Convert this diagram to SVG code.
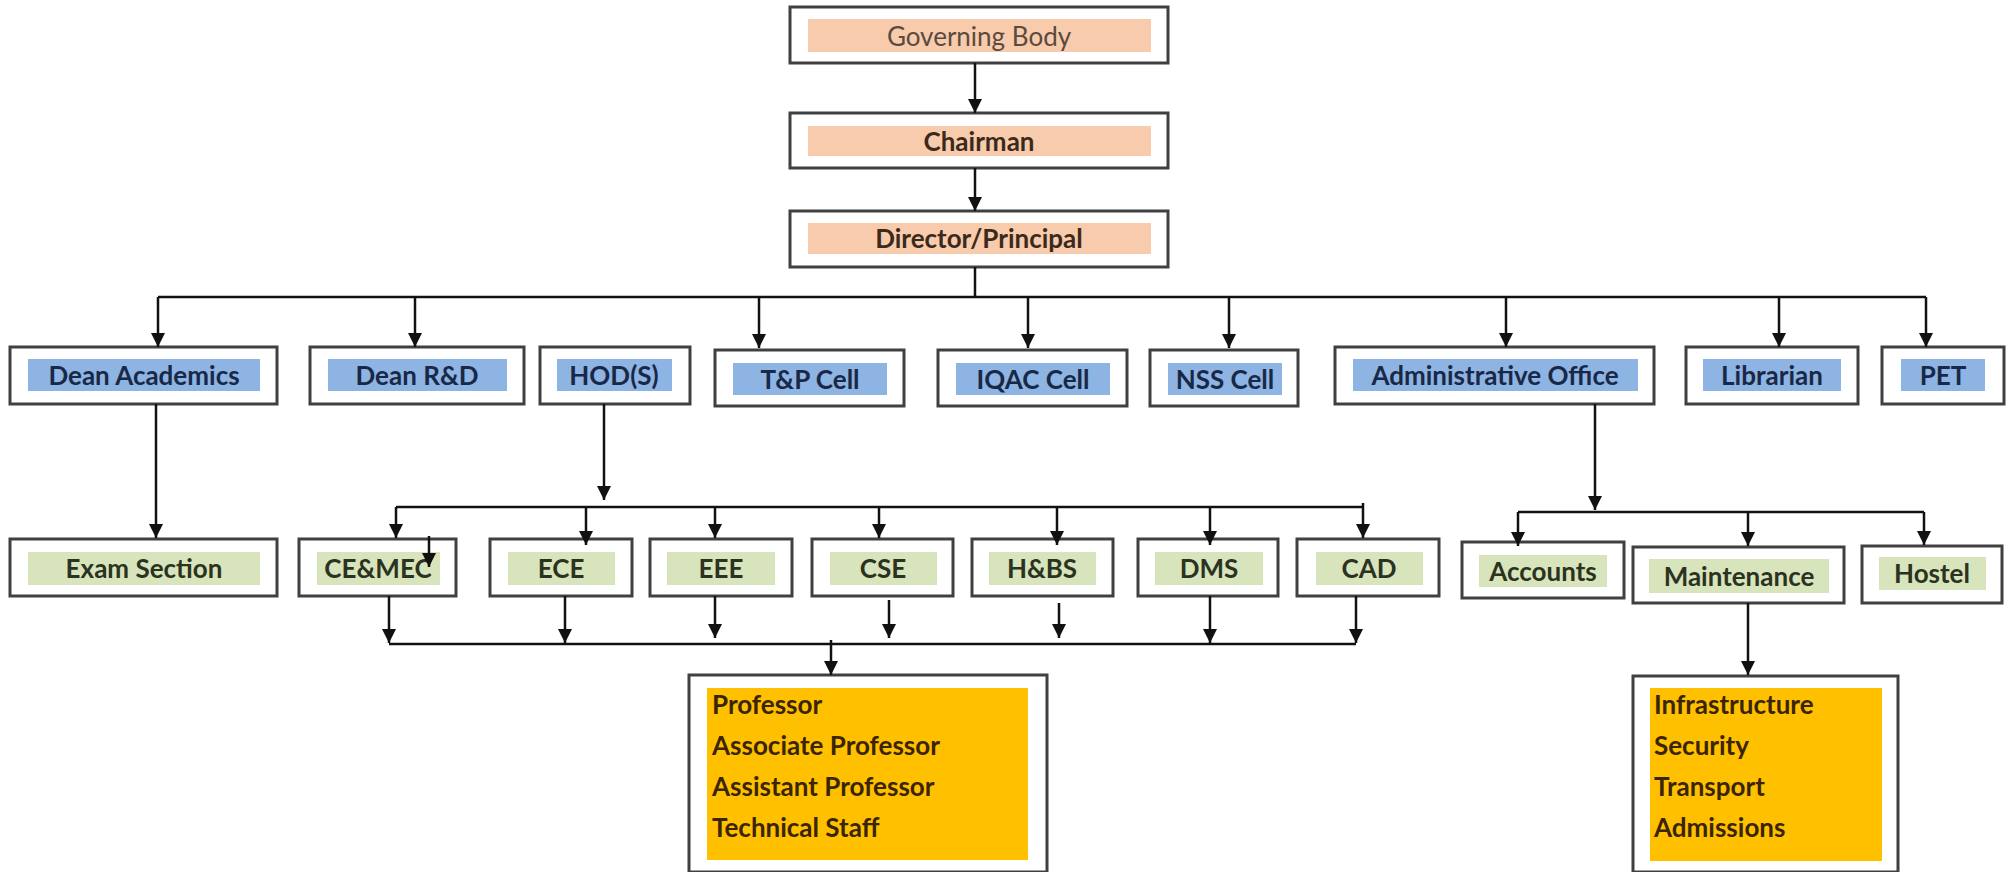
<svg xmlns="http://www.w3.org/2000/svg" width="2007" height="872" viewBox="0 0 2007 872">
<style>
.box{fill:#ffffff;stroke:#404040;stroke-width:3}
.pe{fill:#f8cbad}
.bl{fill:#8db4e2}
.gr{fill:#d7e4bc}
.or{fill:#ffc000}
text{font-family:Lato,"Liberation Sans",sans-serif;font-size:26px;font-weight:700}
.c{text-anchor:middle}
.tp{fill:#3b2a1c}
.tg{fill:#5b4a3e;font-weight:400}
.tb{fill:#1a2848}
.tgr{fill:#2b3320}
.to{fill:#3a2500}
.ln{fill:none;stroke:#111;stroke-width:2.5}
</style>
<defs>
<marker id="ah" markerWidth="14" markerHeight="14" refX="14" refY="7" orient="auto" markerUnits="userSpaceOnUse"><path d="M0,0 L14,7 L0,14 z" fill="#111"/></marker>
</defs>
<rect width="2007" height="872" fill="#ffffff"/>
<g id="governing-body"><rect class="box" x="790" y="7" width="378" height="56"/><rect class="pe" x="808" y="19" width="343" height="33"/><text class="c tg" x="979" y="46">Governing Body</text></g>
<g id="chairman"><rect class="box" x="790" y="113" width="378" height="55"/><rect class="pe" x="808" y="126" width="343" height="30"/><text class="c tp" x="979" y="151">Chairman</text></g>
<g id="director"><rect class="box" x="790" y="211" width="378" height="56"/><rect class="pe" x="808" y="223" width="343" height="31"/><text class="c tp" x="979" y="248">Director/Principal</text></g>

<g id="dean-academics"><rect class="box" x="10" y="347" width="267" height="57"/><rect class="bl" x="28" y="359" width="232" height="32"/><text class="c tb" x="144" y="385">Dean Academics</text></g>
<g id="dean-rd"><rect class="box" x="310" y="347" width="214" height="57"/><rect class="bl" x="328" y="359" width="179" height="32"/><text class="c tb" x="417" y="385">Dean R&amp;D</text></g>
<g id="hods"><rect class="box" x="540" y="347" width="150" height="57"/><rect class="bl" x="557" y="359" width="115" height="32"/><text class="c tb" x="614" y="385">HOD(S)</text></g>
<g id="tp-cell"><rect class="box" x="715" y="350" width="189" height="56"/><rect class="bl" x="733" y="363" width="154" height="32"/><text class="c tb" x="810" y="389">T&amp;P Cell</text></g>
<g id="iqac-cell"><rect class="box" x="938" y="350" width="189" height="56"/><rect class="bl" x="956" y="363" width="154" height="32"/><text class="c tb" x="1033" y="389">IQAC Cell</text></g>
<g id="nss-cell"><rect class="box" x="1150" y="350" width="148" height="56"/><rect class="bl" x="1168" y="363" width="114" height="32"/><text class="c tb" x="1225" y="389">NSS Cell</text></g>
<g id="admin-office"><rect class="box" x="1335" y="347" width="319" height="57"/><rect class="bl" x="1353" y="359" width="285" height="32"/><text class="c tb" x="1495" y="385">Administrative Office</text></g>
<g id="librarian"><rect class="box" x="1686" y="347" width="172" height="57"/><rect class="bl" x="1703" y="359" width="138" height="32"/><text class="c tb" x="1772" y="385">Librarian</text></g>
<g id="pet"><rect class="box" x="1882" y="347" width="122" height="57"/><rect class="bl" x="1901" y="359" width="84" height="32"/><text class="c tb" x="1943" y="385">PET</text></g>

<g id="exam-section"><rect class="box" x="10" y="539" width="267" height="57"/><rect class="gr" x="28" y="552" width="232" height="33"/><text class="c tgr" x="144" y="578">Exam Section</text></g>
<g id="ce-mec"><rect class="box" x="299" y="539" width="157" height="57"/><rect class="gr" x="317" y="552" width="123" height="33"/><text class="c tgr" x="378" y="578">CE&amp;MEC</text></g>
<g id="ece"><rect class="box" x="490" y="539" width="142" height="57"/><rect class="gr" x="508" y="552" width="107" height="33"/><text class="c tgr" x="561" y="578">ECE</text></g>
<g id="eee"><rect class="box" x="650" y="539" width="142" height="57"/><rect class="gr" x="667" y="552" width="108" height="33"/><text class="c tgr" x="721" y="578">EEE</text></g>
<g id="cse"><rect class="box" x="812" y="539" width="141" height="57"/><rect class="gr" x="830" y="552" width="107" height="33"/><text class="c tgr" x="883" y="578">CSE</text></g>
<g id="hbs"><rect class="box" x="972" y="539" width="141" height="57"/><rect class="gr" x="989" y="552" width="107" height="33"/><text class="c tgr" x="1042" y="578">H&amp;BS</text></g>
<g id="dms"><rect class="box" x="1138" y="539" width="140" height="57"/><rect class="gr" x="1155" y="552" width="108" height="33"/><text class="c tgr" x="1209" y="578">DMS</text></g>
<g id="cad"><rect class="box" x="1297" y="539" width="142" height="57"/><rect class="gr" x="1316" y="552" width="107" height="33"/><text class="c tgr" x="1369" y="578">CAD</text></g>

<g id="accounts"><rect class="box" x="1462" y="542" width="162" height="56"/><rect class="gr" x="1479" y="555" width="128" height="32"/><text class="c tgr" x="1543" y="581">Accounts</text></g>
<g id="maintenance"><rect class="box" x="1633" y="547" width="211" height="56"/><rect class="gr" x="1649" y="559" width="180" height="34"/><text class="c tgr" x="1739" y="586">Maintenance</text></g>
<g id="hostel"><rect class="box" x="1862" y="546" width="140" height="57"/><rect class="gr" x="1879" y="557" width="107" height="33"/><text class="c tgr" x="1932" y="583">Hostel</text></g>

<g id="faculty"><rect class="box" x="689" y="675" width="358" height="197"/><rect class="or" x="707" y="688" width="321" height="172"/>
<text class="to" x="712" y="714">Professor</text>
<text class="to" x="712" y="755">Associate Professor</text>
<text class="to" x="712" y="796">Assistant Professor</text>
<text class="to" x="712" y="837">Technical Staff</text></g>
<g id="infrastructure"><rect class="box" x="1633" y="676" width="265" height="196"/><rect class="or" x="1650" y="688" width="232" height="173"/>
<text class="to" x="1654" y="714">Infrastructure</text>
<text class="to" x="1654" y="755">Security</text>
<text class="to" x="1654" y="796">Transport</text>
<text class="to" x="1654" y="837">Admissions</text></g>

<g id="connectors">
<line class="ln" x1="975" y1="63" x2="975" y2="113" marker-end="url(#ah)"/>
<line class="ln" x1="975" y1="168" x2="975" y2="211" marker-end="url(#ah)"/>
<line class="ln" x1="975" y1="267" x2="975" y2="297"/>
<line class="ln" x1="158" y1="297" x2="1926" y2="297"/>
<line class="ln" x1="158" y1="297" x2="158" y2="347" marker-end="url(#ah)"/>
<line class="ln" x1="415" y1="297" x2="415" y2="347" marker-end="url(#ah)"/>
<line class="ln" x1="759" y1="297" x2="759" y2="348" marker-end="url(#ah)"/>
<line class="ln" x1="1028" y1="297" x2="1028" y2="348" marker-end="url(#ah)"/>
<line class="ln" x1="1229" y1="297" x2="1229" y2="348" marker-end="url(#ah)"/>
<line class="ln" x1="1506" y1="297" x2="1506" y2="347" marker-end="url(#ah)"/>
<line class="ln" x1="1779" y1="297" x2="1779" y2="347" marker-end="url(#ah)"/>
<line class="ln" x1="1926" y1="297" x2="1926" y2="347" marker-end="url(#ah)"/>
<line class="ln" x1="156" y1="404" x2="156" y2="538" marker-end="url(#ah)"/>
<line class="ln" x1="604" y1="404" x2="604" y2="500" marker-end="url(#ah)"/>
<line class="ln" x1="396" y1="507" x2="1363" y2="507"/>
<line class="ln" x1="1363" y1="503" x2="1363" y2="507"/>
<line class="ln" x1="396" y1="507" x2="396" y2="538" marker-end="url(#ah)"/>
<line class="ln" x1="429" y1="536" x2="429" y2="567" marker-end="url(#ah)"/>
<line class="ln" x1="586" y1="507" x2="586" y2="545" marker-end="url(#ah)"/>
<line class="ln" x1="715" y1="507" x2="715" y2="538" marker-end="url(#ah)"/>
<line class="ln" x1="879" y1="507" x2="879" y2="538" marker-end="url(#ah)"/>
<line class="ln" x1="1057" y1="507" x2="1057" y2="545" marker-end="url(#ah)"/>
<line class="ln" x1="1210" y1="507" x2="1210" y2="545" marker-end="url(#ah)"/>
<line class="ln" x1="1363" y1="507" x2="1363" y2="538" marker-end="url(#ah)"/>
<line class="ln" x1="389" y1="596" x2="389" y2="643" marker-end="url(#ah)"/>
<line class="ln" x1="565" y1="596" x2="565" y2="643" marker-end="url(#ah)"/>
<line class="ln" x1="715" y1="596" x2="715" y2="638" marker-end="url(#ah)"/>
<line class="ln" x1="889" y1="600" x2="889" y2="638" marker-end="url(#ah)"/>
<line class="ln" x1="1059" y1="603" x2="1059" y2="638" marker-end="url(#ah)"/>
<line class="ln" x1="1210" y1="596" x2="1210" y2="643" marker-end="url(#ah)"/>
<line class="ln" x1="1356" y1="596" x2="1356" y2="643" marker-end="url(#ah)"/>
<line class="ln" x1="389" y1="644" x2="1356" y2="644"/>
<line class="ln" x1="831" y1="640" x2="831" y2="675" marker-end="url(#ah)"/>
<line class="ln" x1="1595" y1="404" x2="1595" y2="510" marker-end="url(#ah)"/>
<line class="ln" x1="1518" y1="512" x2="1924" y2="512"/>
<line class="ln" x1="1518" y1="512" x2="1518" y2="546" marker-end="url(#ah)"/>
<line class="ln" x1="1748" y1="512" x2="1748" y2="546" marker-end="url(#ah)"/>
<line class="ln" x1="1924" y1="512" x2="1924" y2="545" marker-end="url(#ah)"/>
<line class="ln" x1="1748" y1="603" x2="1748" y2="675" marker-end="url(#ah)"/>
</g>
</svg>
